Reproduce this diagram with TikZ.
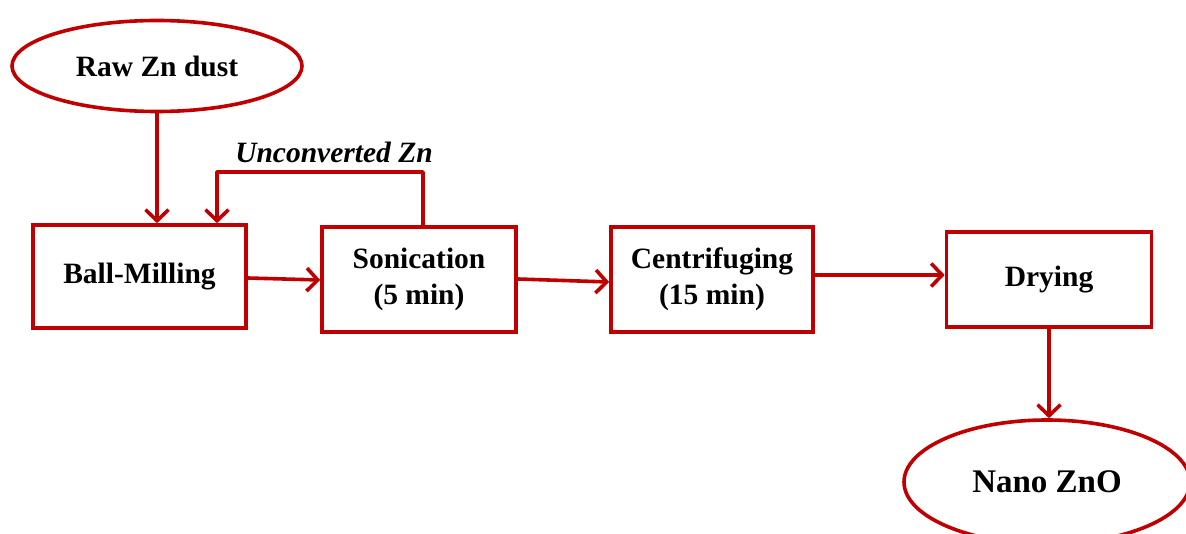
\documentclass[tikz,border=0pt]{standalone}
\usepackage{fontspec}
\setmainfont{Liberation Serif}
\usetikzlibrary{arrows.meta,shapes.geometric}
\definecolor{flowred}{RGB}{192,0,0}
\begin{document}
\begin{tikzpicture}[x=1pt,y=-1pt,
  box/.style={draw=flowred,line width=3.6pt,rectangle,inner sep=0pt,align=center,
    font=\fontsize{29.5}{36}\selectfont\bfseries},
  oval/.style={draw=flowred,line width=3.6pt,ellipse,inner sep=0pt,
    font=\bfseries},
  flow/.style={draw=flowred,line width=3.6pt,line cap=round,line join=round,
    -{Straight Barb[length=11pt,width=23pt,line width=3.6pt]}}
]
\useasboundingbox (0,0) rectangle (1186,534);
\node[oval,minimum width=290pt,minimum height=91pt,font=\fontsize{29.5}{36}\selectfont\bfseries] (raw) at (157,66) {Raw Zn dust};
\node[box,minimum width=213pt,minimum height=103pt] (bm) at (139.5,276.5) {Ball-Milling};
\node[box,minimum width=194pt,minimum height=105pt] (son) at (419,279.5) {Sonication\\(5 min)};
\node[box,minimum width=202pt,minimum height=105pt] (cen) at (712,279.5) {Centrifuging\\(15 min)};
\node[box,minimum width=205pt,minimum height=95pt] (dry) at (1049,279.5) {Drying};
\node[oval,minimum width=286pt,minimum height=124pt,font=\fontsize{33}{40}\selectfont\bfseries] (nano) at (1047,482) {Nano ZnO};
\node[font=\fontsize{29.5}{36}\selectfont\bfseries\itshape] (lab) at (334,152) {Unconverted Zn};
\coordinate (fb1) at (423,172);
\coordinate (fb2) at (217,172);
\draw[flow] (raw.south) -- (raw.south |- bm.north);
\draw[flow] (son.north -| fb1) -- (fb1) -- (fb2) -- (fb2 |- bm.north);
\draw[flow] ([yshift=-1.5pt]bm.east) -- ([yshift=-0.5pt]son.west);
\draw[flow] ([yshift=0.5pt]son.east) -- ([yshift=-2.5pt]cen.west);
\draw[flow] ([yshift=4.5pt]cen.east) -- ([yshift=4.5pt]dry.west);
\draw[flow] (dry.south) -- (dry.south |- nano.north);
\end{tikzpicture}
\end{document}
